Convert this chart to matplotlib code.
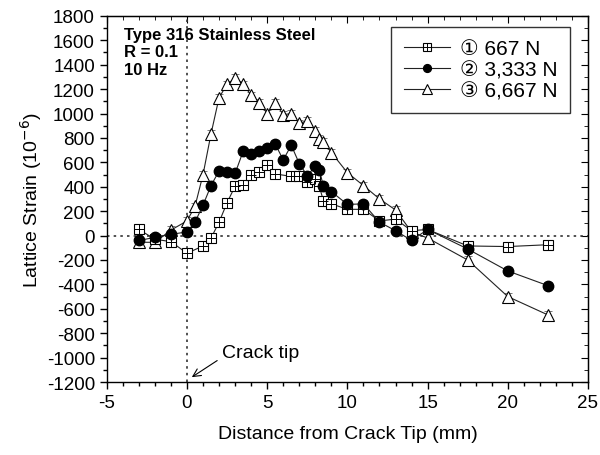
import matplotlib
matplotlib.use('Agg')
import matplotlib.pyplot as plt
from matplotlib.ticker import MultipleLocator
from matplotlib.legend_handler import HandlerTuple

plt.rcParams['font.family'] = ['Liberation Sans', 'DejaVu Sans', 'Noto Sans CJK SC']
plt.rcParams['axes.unicode_minus'] = False

# 667 N  (square with cross)
x1 = [-3, -2, -1, 0, 1, 1.5, 2, 2.5, 3, 3.5, 4, 4.5, 5, 5.5, 6.5, 7, 7.5, 8, 8.25, 8.5,
      9, 10, 11, 12, 13, 14, 15, 17.5, 20, 22.5]
y1 = [50, -30, -50, -145, -85, -20, 110, 270, 405, 415, 495, 520, 575, 505, 485, 485, 435, 460, 405, 285,
      260, 215, 215, 120, 135, 40, 50, -85, -90, -75]

# 3,333 N (filled circle)
x2 = [-3, -2, -1, 0, 0.5, 1, 1.5, 2, 2.5, 3, 3.5, 4, 4.5, 5, 5.5, 6, 6.5, 7, 7.5, 8, 8.25, 8.5,
      9, 10, 11, 12, 13, 14, 15, 17.5, 20, 22.5]
y2 = [-40, -15, 10, 30, 110, 250, 410, 530, 520, 510, 690, 670, 690, 720, 750, 620, 740, 590, 490, 570, 540, 405,
      360, 255, 260, 110, 40, -40, 50, -110, -290, -410]

# 6,667 N (open triangle)
x3 = [-3, -2, -1, 0, 0.5, 1, 1.5, 2, 2.5, 3, 3.5, 4, 4.5, 5, 5.5, 6, 6.5, 7, 7.5, 8, 8.25, 8.5,
      9, 10, 11, 12, 13, 14, 15, 17.5, 20, 22.5]
y3 = [-55, -55, 45, 120, 240, 500, 835, 1130, 1240, 1290, 1240, 1150, 1090, 1000, 1090, 990, 1000, 920, 940, 860, 790, 770,
      680, 515, 410, 300, 210, 30, -20, -200, -500, -650]

err = 30
labels = ['\u2460 667 N', '\u2461 3,333 N', '\u2462 6,667 N']

fig = plt.figure(figsize=(6, 4.56), dpi=100)
ax = fig.add_axes([0.178, 0.16, 0.802, 0.803])

ax.axvline(0, color='#333333', ls=(0, (1.5, 2.5)), lw=1.2, zorder=1)
ax.axhline(0, color='#333333', ls=(0, (1.5, 2.5)), lw=1.2, zorder=1)

lw = 0.8
ebkw = dict(ecolor='#777777', elinewidth=0.7, capsize=3, capthick=0.7)

ax.errorbar(x3, y3, yerr=err, fmt='none', zorder=2, **ebkw)
l3, = ax.plot(x3, y3, color='#222222', lw=lw, marker='^', ms=9, mfc='white', mec='black', mew=0.8, zorder=3)

ax.errorbar(x1, y1, yerr=err, fmt='none', zorder=4, **ebkw)
l1, = ax.plot(x1, y1, color='#222222', lw=lw, marker='s', ms=7, mfc='white', mec='black', mew=0.8, zorder=5)
l1b, = ax.plot(x1, y1, ls='none', marker='+', ms=7, color='black', mew=0.7, zorder=6)

ax.errorbar(x2, y2, yerr=err, fmt='none', zorder=7, **ebkw)
l2, = ax.plot(x2, y2, color='#222222', lw=lw, marker='o', ms=7.5, mfc='black', mec='black', zorder=8)

ax.set_xlim(-5, 25)
ax.set_ylim(-1200, 1800)
ax.xaxis.set_major_locator(MultipleLocator(5))
ax.xaxis.set_minor_locator(MultipleLocator(1))
ax.yaxis.set_major_locator(MultipleLocator(200))
ax.yaxis.set_minor_locator(MultipleLocator(100))

ax.tick_params(which='both', direction='out', labelsize=13.5, width=1, top=False, right=False)
ax.tick_params(which='major', length=5)
ax.tick_params(which='minor', length=3)
for s in ax.spines.values():
    s.set_linewidth(1)

# mirrored inward ticks on top and right
ax2 = ax.secondary_xaxis('top')
ax2.xaxis.set_major_locator(MultipleLocator(5))
ax2.xaxis.set_minor_locator(MultipleLocator(1))
ax2.tick_params(which='both', direction='in', labeltop=False)
ax2.tick_params(which='major', length=5)
ax2.tick_params(which='minor', length=3)
ax3 = ax.secondary_yaxis('right')
ax3.yaxis.set_major_locator(MultipleLocator(200))
ax3.yaxis.set_minor_locator(MultipleLocator(100))
ax3.tick_params(which='both', direction='in', labelright=False)
ax3.tick_params(which='major', length=5)
ax3.tick_params(which='minor', length=3)

ax.set_xlabel('Distance from Crack Tip (mm)', fontsize=14, labelpad=10)
ax.set_ylabel('Lattice Strain (10$^{-6}$)', fontsize=14, labelpad=2)

ax.text(0.035, 0.97, 'Type 316 Stainless Steel\nR = 0.1\n10 Hz', transform=ax.transAxes,
        fontsize=12, fontweight='bold', va='top', ha='left', linespacing=1.2)

ax.annotate('Crack tip', xy=(0.3, -1160), xytext=(2.2, -955), fontsize=14,
            ha='left', va='center',
            arrowprops=dict(arrowstyle='->', color='black', lw=0.8, relpos=(0, 0.2),
                            shrinkA=2, shrinkB=0))

leg = ax.legend([(l1, l1b), l2, l3], labels, loc='upper right', bbox_to_anchor=(0.963, 0.97),
                borderaxespad=0, fontsize=15, frameon=True, fancybox=False, edgecolor='black',
                handlelength=2.2, handletextpad=0.5, labelspacing=0.1, borderpad=0.6,
                markerscale=0.75,
                handler_map={tuple: HandlerTuple(ndivide=1, pad=0)})
leg.get_frame().set_linewidth(1)

fig.savefig('out.png', dpi=100)
